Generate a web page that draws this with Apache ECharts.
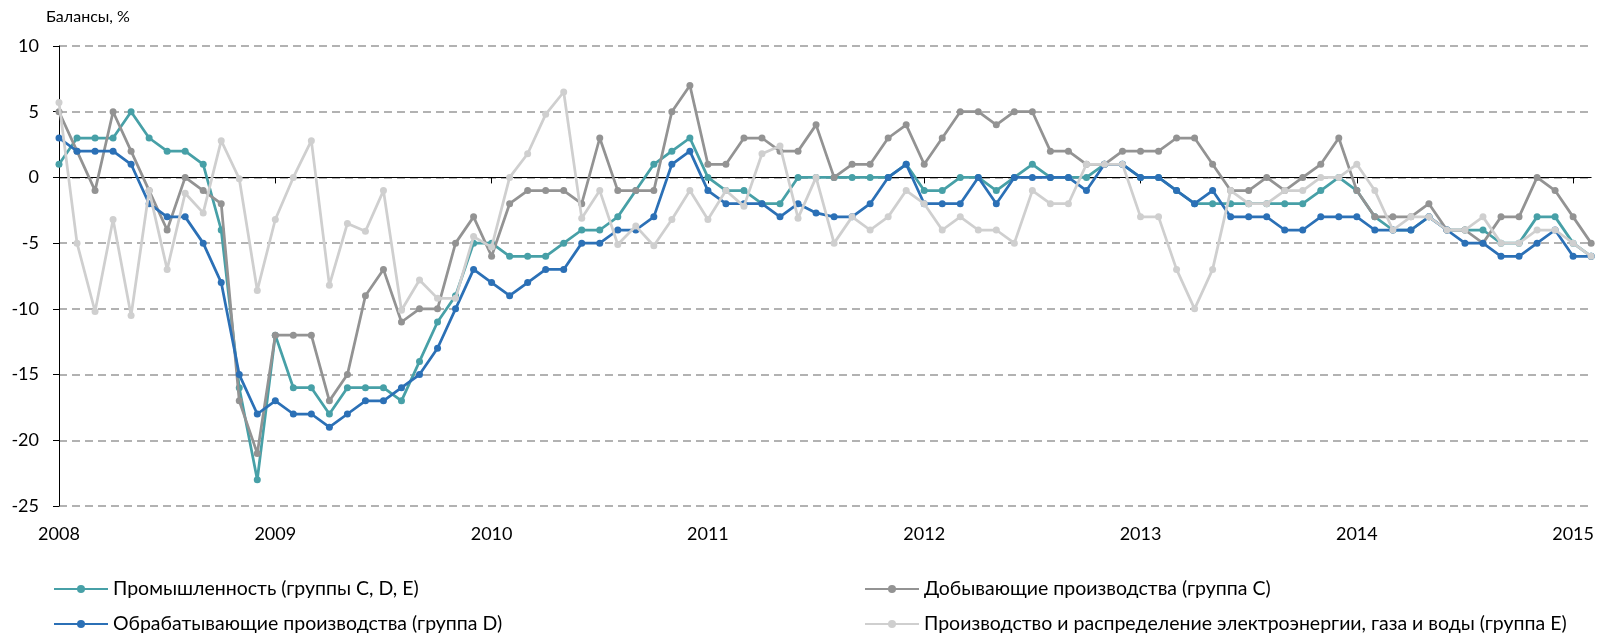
<!DOCTYPE html>
<html>
<head>
<meta charset="utf-8">
<script src="https://cdn.jsdelivr.net/npm/echarts@6/dist/echarts.min.js"></script>
<style>
  html, body { margin: 0; padding: 0; background: #fff; }
  #chart { width: 1597px; height: 634px; }
</style>
</head>
<body>
<div id="chart"></div>
<script>
// months Jan 2008 .. Feb 2015
const years = [2008, 2009, 2010, 2011, 2012, 2013, 2014, 2015];
const months = [];
years.forEach(y => {
  for (let m = 1; m <= 12; m++) {
    if (y === 2015 && m > 2) break;
    months.push(y + '-' + (m < 10 ? '0' + m : m));
  }
});

const seriesNames = [
  'Промышленность (группы C, D, E)',
  'Добывающие производства (группа C)',
  'Обрабатывающие производства (группа D)',
  'Производство и распределение электроэнергии, газа и воды (группа E)'
];

const industry = [
  1, 3, 3, 3, 5, 3, 2, 2, 1, -4, -16, -23,
  -12, -16, -16, -18, -16, -16, -16, -17, -14, -11, -9, -5,
  -5, -6, -6, -6, -5, -4, -4, -3, -1, 1, 2, 3,
  0, -1, -1, -2, -2, 0, 0, 0, 0, 0, 0, 1,
  -1, -1, 0, 0, -1, 0, 1, 0, 0, 0, 1, 1,
  0, 0, -1, -2, -2, -2, -2, -2, -2, -2, -1, 0,
  -1, -3, -4, -4, -3, -4, -4, -4, -5, -5, -3, -3,
  -5, -6
];

const mining = [
  5, 2, -1, 5, 2, -1, -4, 0, -1, -2, -17, -21,
  -12, -12, -12, -17, -15, -9, -7, -11, -10, -10, -5, -3,
  -6, -2, -1, -1, -1, -2, 3, -1, -1, -1, 5, 7,
  1, 1, 3, 3, 2, 2, 4, 0, 1, 1, 3, 4,
  1, 3, 5, 5, 4, 5, 5, 2, 2, 1, 1, 2,
  2, 2, 3, 3, 1, -1, -1, 0, -1, 0, 1, 3,
  -1, -3, -3, -3, -2, -4, -4, -5, -3, -3, 0, -1,
  -3, -5
];

const manufacturing = [
  3, 2, 2, 2, 1, -2, -3, -3, -5, -8, -15, -18,
  -17, -18, -18, -19, -18, -17, -17, -16, -15, -13, -10, -7,
  -8, -9, -8, -7, -7, -5, -5, -4, -4, -3, 1, 2,
  -1, -2, -2, -2, -3, -2, -2.7, -3, -3, -2, 0, 1,
  -2, -2, -2, 0, -2, 0, 0, 0, 0, -1, 1, 1,
  0, 0, -1, -2, -1, -3, -3, -3, -4, -4, -3, -3,
  -3, -4, -4, -4, -3, -4, -5, -5, -6, -6, -5, -4,
  -6, -6
];

const utilities = [
  5.7, -5, -10.2, -3.2, -10.5, -1, -7, -1.2, -2.7, 2.8, -0.1, -8.6,
  -3.2, 0, 2.8, -8.2, -3.5, -4.1, -1, -10.1, -7.8, -9.2, -9.2, -4.5,
  -5.3, 0, 1.8, 4.8, 6.5, -3.1, -1, -5.1, -3.7, -5.2, -3.2, -1,
  -3.2, -1, -2.2, 1.8, 2.4, -3.1, 0, -5, -3, -4, -3, -1,
  -2, -4, -3, -4, -4, -5, -1, -2, -2, 1, 1, 1,
  -3, -3, -7, -10, -7, -1, -2, -2, -1, -1, 0, 0,
  1, -1, -4, -3, -3, -4, -4, -3, -5, -5, -4, -4,
  -5, -6
];

const colors = ['#47a0a7', '#939393', '#2b70b6', '#cfcfcf'];
const seriesData = [industry, mining, manufacturing, utilities];

const font = 'Lato, "Liberation Sans", sans-serif';
const chart = echarts.init(document.getElementById('chart'));

// legend boxes (padding 5 included)
const legendPos = [
  { left: 48, top: 574 },
  { left: 859, top: 574 },
  { left: 48, top: 609 },
  { left: 859, top: 609 }
];

const option = {
  animation: false,
  color: colors,
  title: {
    text: 'Балансы, %',
    left: 41,
    top: 4,
    textStyle: { fontFamily: font, fontSize: 16, fontWeight: 'normal', color: '#000' }
  },
  legend: seriesNames.map((n, i) => ({
    data: [n],
    left: legendPos[i].left,
    top: legendPos[i].top,
    itemWidth: 54,
    itemHeight: 10,
    textStyle: { fontFamily: font, fontSize: 19.5, color: '#000' }
  })),
  grid: { left: 59, right: 5, top: 46, bottom: 128 },
  xAxis: [
    {
      type: 'category',
      data: months,
      boundaryGap: false,
      position: 'bottom',
      axisLine: { show: false, onZero: false },
      axisTick: { show: false },
      axisLabel: {
        interval: 11,
        margin: 19,
        fontFamily: font,
        fontSize: 18,
        color: '#000',
        formatter: v => v.slice(0, 4)
      },
      splitLine: { show: false }
    },
    {
      type: 'category',
      data: months,
      boundaryGap: false,
      position: 'bottom',
      axisLine: { show: true, onZero: true, lineStyle: { color: '#000', width: 1 } },
      axisTick: { show: true, interval: 11, length: 6, lineStyle: { color: '#000' } },
      axisLabel: { show: false },
      splitLine: { show: false }
    }
  ],
  yAxis: {
    type: 'value',
    min: -25,
    max: 10,
    interval: 5,
    axisLine: { show: true, lineStyle: { color: '#000', width: 1 } },
    axisTick: { show: true, length: 6, lineStyle: { color: '#000' } },
    axisLabel: { margin: 20, fontFamily: font, fontSize: 18, color: '#000' },
    splitLine: { show: true, lineStyle: { color: '#999', width: 1.5, type: [8, 5] } }
  },
  // draw order: teal, dark grey, blue, light grey
  series: seriesNames.map((n, i) => ({
    name: n,
    type: 'line',
    xAxisIndex: 0,
    data: seriesData[i],
    symbol: 'circle',
    symbolSize: 7,
    z: 2 + i,
    lineStyle: { width: 2.75, color: colors[i] },
    itemStyle: { color: colors[i] }
  }))
};

chart.setOption(option);
</script>
</body>
</html>
